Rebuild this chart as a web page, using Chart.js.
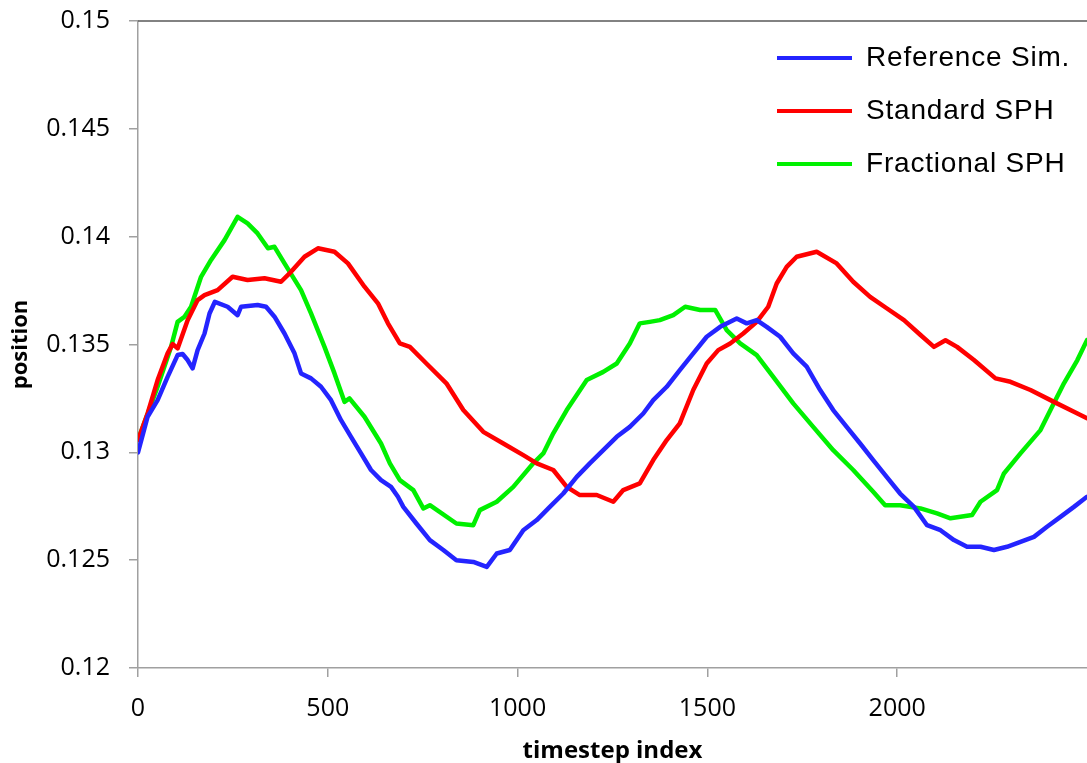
<!DOCTYPE html>
<html>
<head>
<meta charset="utf-8">
<script src="https://cdn.jsdelivr.net/npm/chart.js@4.4.1/dist/chart.umd.min.js"></script>
<style>
  html, body { margin: 0; padding: 0; background: #fff; }
  canvas { display: block; }
</style>
</head>
<body>
<canvas id="grafico" width="1087" height="763"></canvas>
<script>
// ===== datos =====
const serieNombres = ['Reference Sim.', 'Standard SPH', 'Fractional SPH'];
const serieColores = ['#2424ff', '#ff0000', '#00f000'];

const refT = [0, 25, 51, 77, 103, 116, 129, 142, 155, 173, 186, 200, 233, 259, 268, 311, 333, 355, 381, 407, 424, 450, 476, 502, 528, 554, 580, 606, 632, 658, 676, 690, 724, 759, 794, 828, 872, 907, 933, 967, 1002, 1037, 1071, 1106, 1141, 1175, 1210, 1245, 1279, 1314, 1340, 1375, 1409, 1444, 1479, 1514, 1557, 1583, 1609, 1635, 1670, 1704, 1739, 1774, 1808, 1843, 1878, 1912, 1947, 1982, 2018, 2052, 2087, 2122, 2156, 2191, 2226, 2260, 2295, 2330, 2364, 2399, 2434, 2468];
const refPos = [0.1300, 0.13165, 0.13242, 0.13350, 0.13451, 0.13456, 0.13428, 0.13389, 0.13474, 0.13551, 0.13644, 0.13698, 0.13675, 0.13636, 0.13675, 0.13683, 0.13675, 0.13629, 0.13551, 0.13459, 0.13366, 0.13343, 0.13304, 0.13242, 0.13149, 0.13072, 0.12995, 0.12918, 0.12871, 0.12840, 0.12794, 0.12747, 0.12670, 0.12593, 0.12547, 0.12500, 0.12492, 0.12469, 0.12531, 0.12547, 0.12639, 0.12686, 0.12747, 0.12809, 0.12886, 0.12949, 0.13010, 0.13072, 0.13118, 0.13180, 0.13242, 0.13304, 0.13381, 0.13459, 0.13536, 0.13582, 0.13621, 0.13598, 0.13613, 0.13582, 0.13536, 0.13459, 0.13397, 0.13289, 0.13196, 0.13118, 0.13041, 0.12964, 0.12886, 0.12809, 0.12747, 0.12662, 0.12639, 0.12593, 0.12562, 0.12562, 0.12547, 0.12562, 0.12585, 0.12608, 0.12655, 0.12701, 0.12747, 0.12794];

const stdT = [0, 25, 51, 77, 90, 103, 129, 155, 173, 207, 246, 285, 329, 372, 398, 433, 468, 511, 546, 589, 624, 650, 681, 707, 750, 802, 846, 898, 950, 1002, 1037, 1080, 1115, 1149, 1193, 1236, 1262, 1305, 1340, 1375, 1409, 1444, 1479, 1509, 1540, 1574, 1609, 1639, 1661, 1687, 1713, 1765, 1817, 1860, 1904, 1947, 1992, 2035, 2070, 2100, 2130, 2174, 2230, 2269, 2321, 2382, 2434, 2468];
const stdPos = [0.13057, 0.13180, 0.13335, 0.13459, 0.13502, 0.13482, 0.13613, 0.13706, 0.13729, 0.13752, 0.13814, 0.13799, 0.13807, 0.13791, 0.13837, 0.13907, 0.13946, 0.13930, 0.13876, 0.13768, 0.13691, 0.13598, 0.13505, 0.13489, 0.13412, 0.13320, 0.13196, 0.13095, 0.13041, 0.12987, 0.12949, 0.12918, 0.12840, 0.12802, 0.12802, 0.12771, 0.12825, 0.12856, 0.12964, 0.13057, 0.13134, 0.13289, 0.13412, 0.13474, 0.13505, 0.13551, 0.13605, 0.13675, 0.13783, 0.13860, 0.13907, 0.13930, 0.13876, 0.13791, 0.13721, 0.13668, 0.13613, 0.13544, 0.13489, 0.13520, 0.13489, 0.13428, 0.13343, 0.13327, 0.13289, 0.13234, 0.13188, 0.13158];

const fracT = [0, 51, 86, 103, 121, 138, 164, 190, 225, 259, 285, 311, 338, 355, 381, 424, 450, 485, 511, 537, 550, 589, 632, 655, 681, 716, 742, 759, 828, 872, 889, 933, 976, 1028, 1054, 1080, 1115, 1167, 1210, 1245, 1279, 1305, 1331, 1357, 1392, 1423, 1462, 1501, 1531, 1566, 1609, 1652, 1704, 1756, 1808, 1860, 1912, 1943, 1982, 2035, 2078, 2113, 2169, 2191, 2234, 2252, 2295, 2347, 2373, 2408, 2443, 2468];
const fracPos = [0.13057, 0.13304, 0.13489, 0.13605, 0.13629, 0.13675, 0.13814, 0.13892, 0.13984, 0.14092, 0.14062, 0.14015, 0.13946, 0.13953, 0.13876, 0.13752, 0.13644, 0.13489, 0.13366, 0.13234, 0.13250, 0.13165, 0.13041, 0.12949, 0.12871, 0.12825, 0.12740, 0.12755, 0.12670, 0.12662, 0.12732, 0.12771, 0.12840, 0.12949, 0.12995, 0.13088, 0.13196, 0.13335, 0.13373, 0.13412, 0.13505, 0.13598, 0.13605, 0.13613, 0.13636, 0.13675, 0.13660, 0.13660, 0.13567, 0.13505, 0.13451, 0.13350, 0.13227, 0.13118, 0.13010, 0.12918, 0.12817, 0.12755, 0.12755, 0.12740, 0.12717, 0.12694, 0.12709, 0.12771, 0.12825, 0.12902, 0.12995, 0.13103, 0.13196, 0.13320, 0.13428, 0.13520];

const yTickLabels = ['0.12', '0.125', '0.13', '0.135', '0.14', '0.145', '0.15'];
const xTickLabels = ['0', '500', '1000', '1500', '2000'];

function puntos(ts, vs) {
  return ts.map((t, i) => ({ x: t, y: vs[i] }));
}

// ===== leyenda dentro del area y borde superior =====
const leyendaInterna = {
  id: 'leyendaInterna',
  afterDraw(chart) {
    const ctx = chart.ctx;
    const area = chart.chartArea;
    ctx.save();
    ctx.strokeStyle = '#595959';
    ctx.lineWidth = 1.5;
    ctx.beginPath();
    ctx.moveTo(area.left, area.top);
    ctx.lineTo(area.right, area.top);
    ctx.stroke();

    ctx.font = '28px "Liberation Sans", Arial, sans-serif';
    ctx.letterSpacing = '0.8px';
    ctx.textBaseline = 'middle';
    ctx.fillStyle = '#000';
    chart.data.datasets.forEach((ds, i) => {
      const y = 58 + i * 53;
      ctx.strokeStyle = ds.borderColor;
      ctx.lineWidth = 4;
      ctx.beginPath();
      ctx.moveTo(777, y);
      ctx.lineTo(852, y);
      ctx.stroke();
      ctx.fillText(ds.label, 866, y);
    });
    ctx.restore();
  }
};

const fuenteTicks = { family: '"Open Sans", sans-serif', size: 25 };
const fuenteTitulo = { family: '"Open Sans", sans-serif', size: 24, weight: 'bold' };

new Chart(document.getElementById('grafico'), {
  type: 'line',
  data: {
    datasets: [
      { label: serieNombres[0], data: puntos(refT, refPos), borderColor: serieColores[0] },
      { label: serieNombres[1], data: puntos(stdT, stdPos), borderColor: serieColores[1] },
      { label: serieNombres[2], data: puntos(fracT, fracPos), borderColor: serieColores[2] }
    ]
  },
  options: {
    responsive: false,
    animation: false,
    layout: { padding: { top: 21, left: 0, right: 0, bottom: 0 } },
    elements: {
      point: { radius: 0 },
      line: { borderWidth: 4.5, tension: 0, borderJoinStyle: 'round', borderCapStyle: 'round' }
    },
    plugins: {
      legend: { display: false },
      tooltip: { enabled: false }
    },
    scales: {
      x: {
        type: 'linear',
        min: 0,
        max: 2468,
        ticks: {
          stepSize: 500,
          includeBounds: false,
          maxRotation: 0,
          padding: 17,
          color: '#000',
          font: fuenteTicks,
          callback: (v, i) => xTickLabels[i]
        },
        grid: { drawOnChartArea: false, tickLength: 9, color: '#a0a0a0', lineWidth: 1.5 },
        border: { color: '#a0a0a0', width: 1.5 },
        title: { display: true, text: 'timestep index', color: '#000', font: fuenteTitulo, padding: { top: 0, bottom: -3 } },
        afterFit: s => { s.height = 95; s.paddingLeft = 0; s.paddingRight = 0; }
      },
      y: {
        min: 0.12,
        max: 0.15,
        ticks: {
          stepSize: 0.005,
          padding: 19,
          color: '#000',
          font: fuenteTicks,
          callback: (v, i) => yTickLabels[i]
        },
        grid: { drawOnChartArea: false, tickLength: 9, color: '#a0a0a0', lineWidth: 1.5 },
        border: { color: '#a0a0a0', width: 1.5 },
        title: { display: true, text: 'position', color: '#000', font: { family: '"Open Sans", sans-serif', size: 22, weight: 'bold' }, padding: { top: 8, bottom: 0 } },
        afterFit: s => { s.width = 138; s.paddingTop = 0; s.paddingBottom = 0; }
      }
    }
  },
  plugins: [leyendaInterna]
});
</script>
</body>
</html>
